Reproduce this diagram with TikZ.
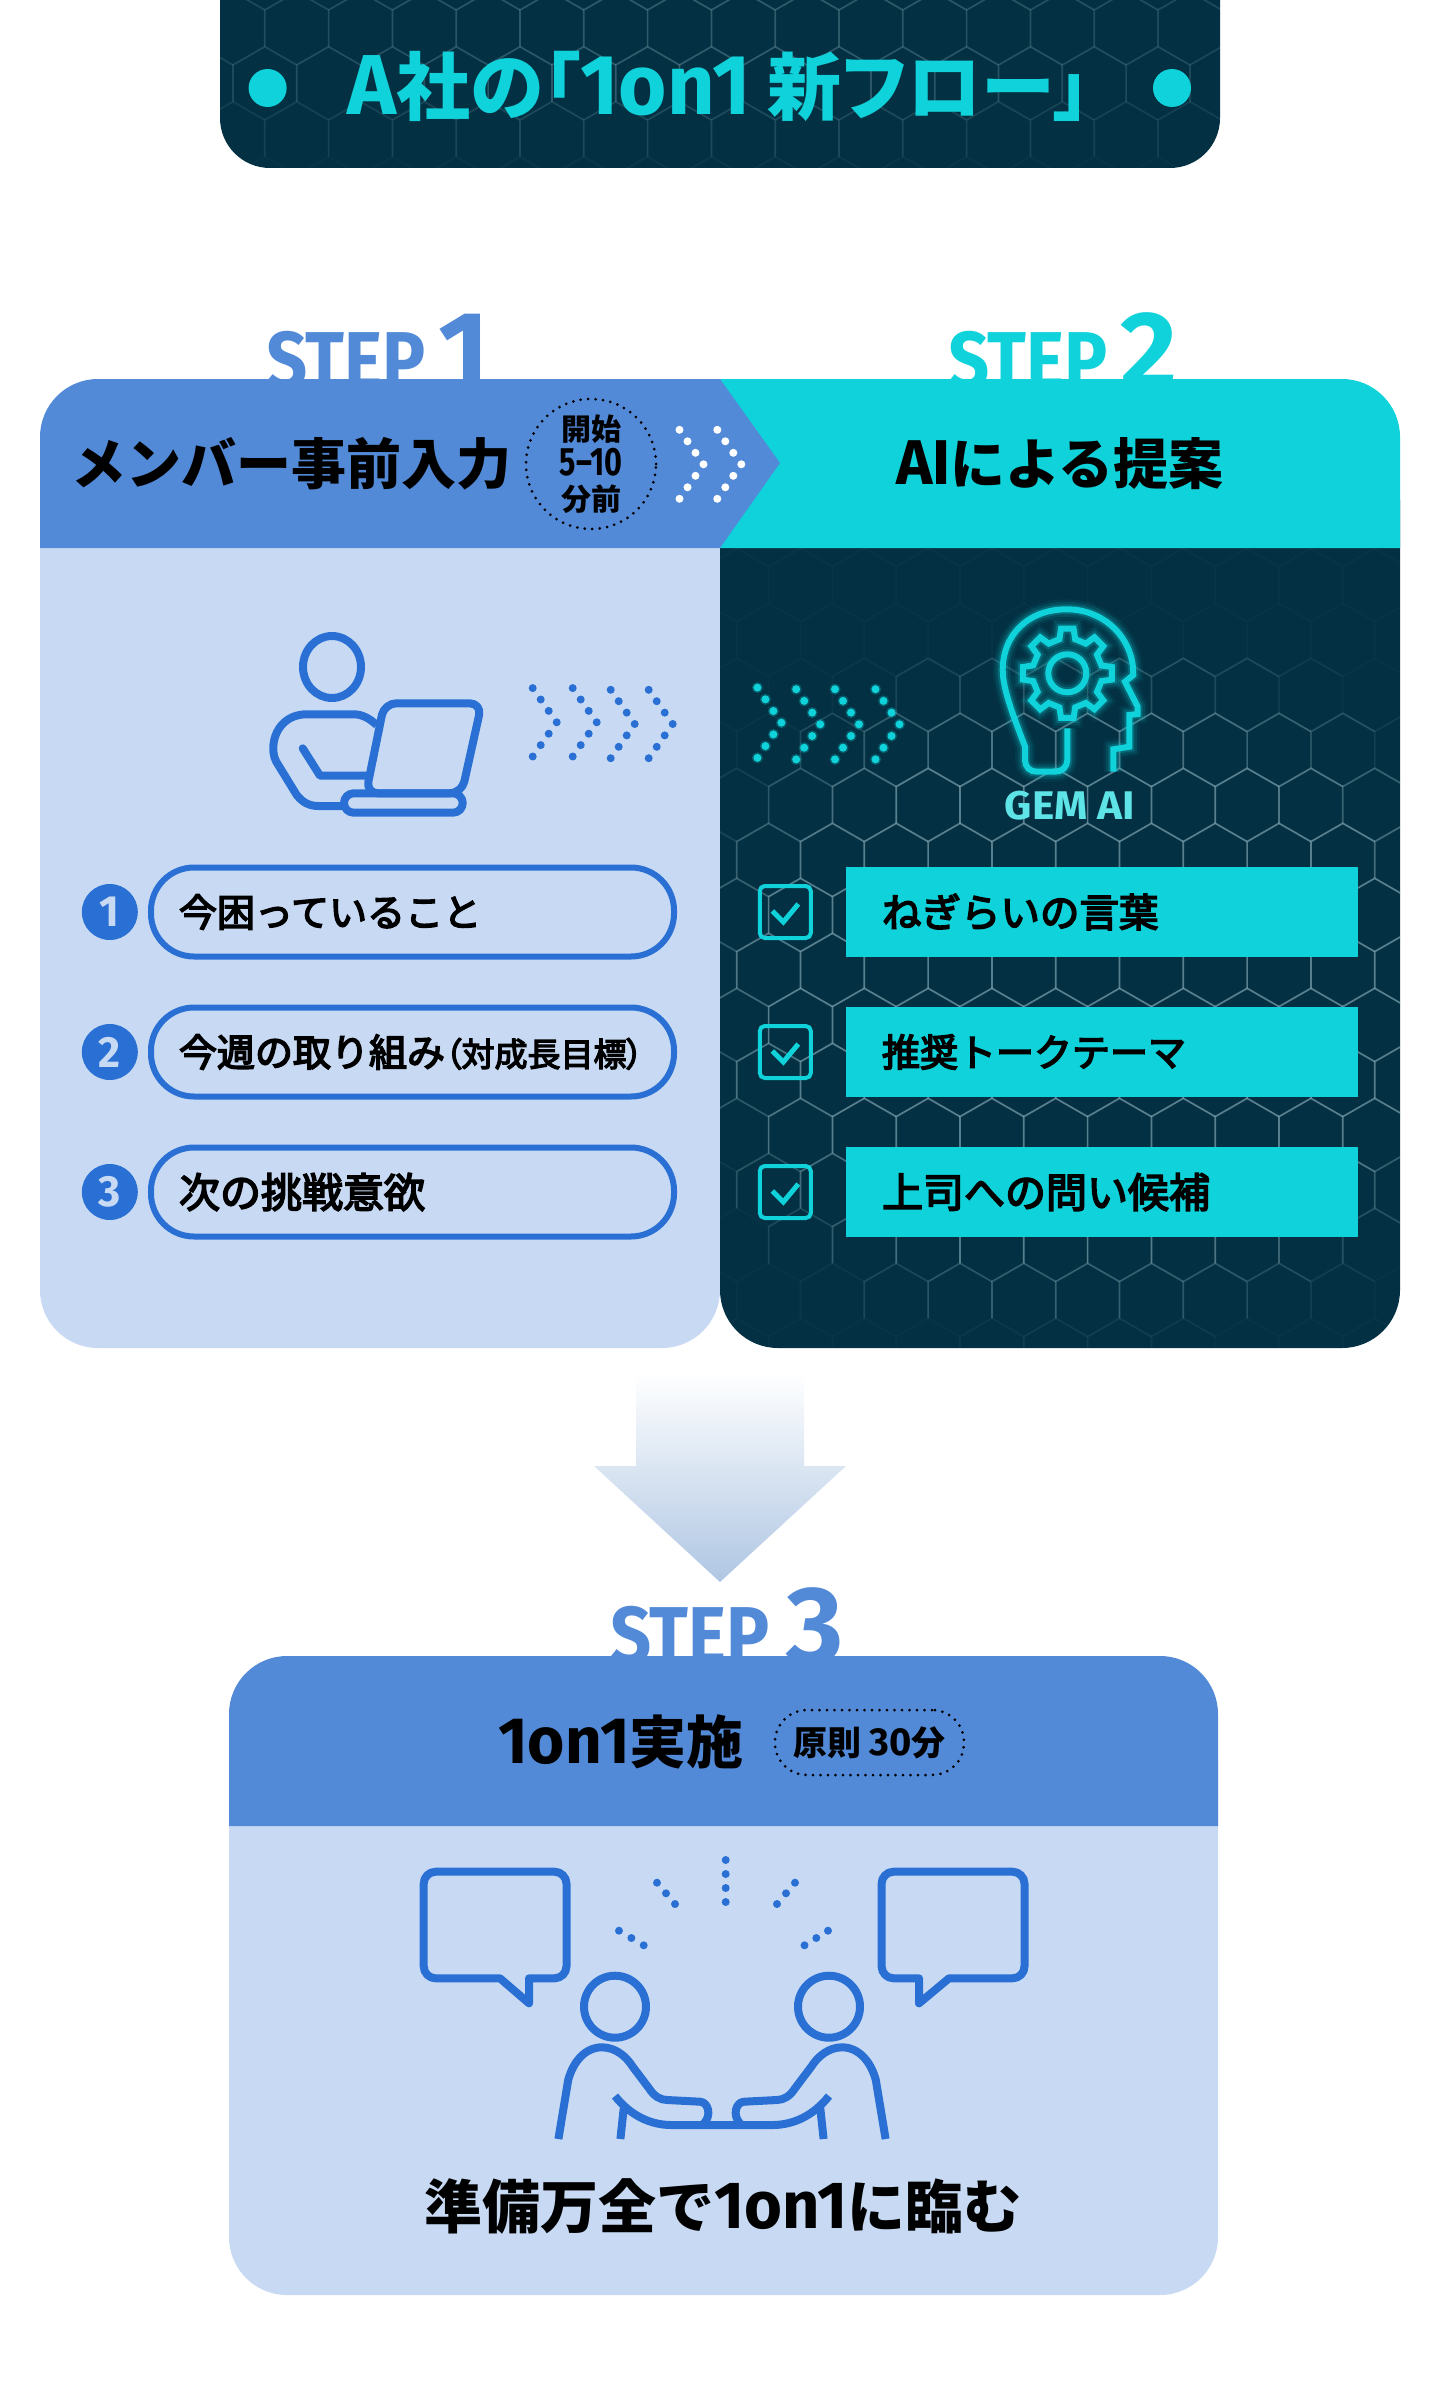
\documentclass[tikz,border=0pt]{standalone}
\usepackage{fontspec}
\setmainfont{Noto Sans CJK JP}
\newfontfamily\titlefont{Noto Sans CJK JP}[RawFeature={+palt}]
\newfontfamily\itemfont{Noto Sans CJK JP}[FakeBold=4]
\newfontfamily\stepfont{Fira Sans}
\usepackage{xcolor}
\usepackage{tikz}
\usetikzlibrary{positioning, calc}
\definecolor{flowblue}{HTML}{528AD8}
\definecolor{flowpale}{HTML}{C8DAF3}
\definecolor{flowline}{HTML}{2A70D4}
\definecolor{flowteal}{HTML}{10D2DA}
\definecolor{flowdark}{HTML}{033143}
\definecolor{flowhex}{HTML}{9FC0CC}
\definecolor{flowglow}{HTML}{5EE3E6}
\definecolor{flowarrowmid}{HTML}{C5D5EA}
\definecolor{flowarrowend}{HTML}{AFC6E3}
\newcommand{\fs}[1]{\fontsize{#1}{#1}\selectfont}
\newcommand{\lat}[1]{{\stepfont\bfseries\scalebox{1.12}[1.15]{#1}}}
\newcommand{\hexgrid}[5]{%
  \foreach \r in {0,...,#3}{
    \foreach \c in {0,...,#4}{
      \pgfmathsetmacro{\hx}{#1+63.8*\c+31.9*mod(\r,2)}
      \pgfmathsetmacro{\hy}{#2+55*\r}
      \pgfmathsetmacro{\hop}{max(0.03,min(0.55,#5))}
      \draw[hexline, opacity=\hop] (\hx-31.9,\hy+55) -- (\hx-31.9,\hy+18.3) -- (\hx,\hy) -- (\hx+31.9,\hy+18.3);
    }
  }
}
\newcommand{\dotchevron}[4]{%
  \foreach \dx/\dy in {0/-3, 8/-2, 16/-1, 24/0, 16/1, 8/2, 0/3}{
    \fill[#4] (#1+\dx,#2+\dy*#3) circle[radius=4];
  }
}
\begin{document}
\begin{tikzpicture}[
  x=1pt, y=-1pt,
  node distance=10pt,
  hexline/.style={draw=flowhex, line width=1.7pt},
  icon/.style={draw=flowline, line width=8pt, line join=round},
  glowicon/.style={draw=flowteal, line width=6pt, line join=miter, preaction={draw=flowteal, opacity=.06, line width=20pt}, preaction={draw=flowteal, opacity=.12, line width=15pt}, preaction={draw=flowteal, opacity=.22, line width=10pt}},
  tealdot/.style={fill=flowteal, draw=flowteal, draw opacity=.25, line width=3pt},
  steplabel/.style={text=flowblue, inner sep=0pt, anchor=base west, font=\stepfont\bfseries\fs{72}},
  stepnum/.style={text=flowblue, inner sep=0pt, anchor=base west, font=\stepfont\bfseries\fs{110}},
  headtext/.style={text=black, inner sep=0pt, font=\fs{55}\bfseries},
  numdot/.style={circle, fill=flowline, text=flowpale, minimum size=56pt, inner sep=0pt, font=\fs{38}},
  pill/.style={draw=flowline, line width=6pt, rounded corners=43pt, minimum height=89pt, text width=467pt, inner xsep=28pt, inner ysep=0pt, align=left, font=\itemfont\fs{38}},
  bar/.style={fill=flowteal, minimum height=90pt, text width=440pt, inner xsep=36pt, inner ysep=0pt, align=left, font=\itemfont\fs{39.5}},
  checkbox/.style={draw=flowteal, line width=4pt, rounded corners=5pt, minimum width=51pt, minimum height=52pt, inner sep=0pt},
  checkmark/.style={draw=flowteal, line width=5pt},
  dotring/.style={draw=black, line width=3pt, line cap=round, dash pattern=on 0pt off 7.5pt},
  talkdot/.style={fill=flowline},
]
\useasboundingbox (0,0) rectangle (1440,2400);

\fill[flowdark, rounded corners=50pt] (220,-100) rectangle (1220,168);
\begin{scope}
  \clip[rounded corners=50pt] (220,-100) rectangle (1220,168);
  \hexgrid{201}{-63.3}{5}{16}{.36-veclen((\hx-720)/6,\hy-20)/450}
\end{scope}
\fill[flowteal] (267.6,88) circle[radius=19];
\fill[flowteal] (1172,88) circle[radius=19];
\node[text=flowteal, inner sep=0pt, font=\titlefont\bfseries\fs{74}] (title) at (719,86) {\lat{A}社の「\lat{1on1} 新フロー」};

\node[steplabel] (stepone) at (266,388) {\scalebox{1}[1.12]{STEP}};
\node[stepnum] (numone) at (438,388) {1};
\node[steplabel, text=flowteal] (steptwo) at (948,388) {\scalebox{1}[1.12]{STEP}};
\node[stepnum, text=flowteal] (numtwo) at (1120,388) {2};
\node[steplabel] (stepthree) at (610,1663) {\scalebox{1}[1.12]{STEP}};
\node[stepnum] (numthree) at (786,1663) {3};

\fill[flowpale] (40,500) [rounded corners=58pt] -- (40,1348) -- (720,1348) [sharp corners] -- (720,500) -- cycle;
\fill[flowdark] (1400,500) [rounded corners=58pt] -- (1400,1348) -- (720,1348) [sharp corners] -- (720,500) -- cycle;
\begin{scope}
  \clip (1400,500) [rounded corners=58pt] -- (1400,1348) -- (720,1348) [sharp corners] -- (720,500) -- cycle;
  \hexgrid{672.9}{438.3}{17}{12}{1.6-veclen((\hx-1100)/1.3,\hy-970)/232}
\end{scope}
\fill[flowteal, rounded corners=58pt] (720,379) -- (1400,379) [sharp corners] -- (1400,548) -- (720,548) -- cycle;
\fill[flowblue] (40,548) [rounded corners=58pt] -- (40,379) [sharp corners] -- (720,379) -- (780,463) -- (720,548) -- cycle;

\node[headtext] (membertitle) at (291,464) {メンバー事前入力};
\node[dotring, circle, minimum size=130pt, inner sep=0pt, align=center, font=\fs{30}\bfseries] (lead) at (591,464) {開始\\[4pt]{\stepfont\bfseries\fs{36}\scalebox{.85}[1.1]{5–10}}\\[5pt]分前};
\dotchevron{679.5}{464.3}{11.5}{white}
\dotchevron{717.3}{464.3}{11.5}{white}
\node[headtext] (aititle) at (1060,464) {\lat{AI}による提案};

\draw[icon] (332,667) ellipse[x radius=29, y radius=31];
\draw[icon] (376.7,725) .. controls (369,718) and (362,714.3) .. (353.3,714.3) -- (306.7,714.3) .. controls (285,714.3) and (273.3,731) .. (273.3,748.3) .. controls (273.3,756) and (275,760) .. (278.3,765) -- (296.7,795) .. controls (303,803) and (310,806) .. (318.3,806) -- (343.3,806);
\draw[icon, line cap=round] (302.7,748.3) -- (320,775.7) -- (368.3,775.7);
\draw[icon, rounded corners=12pt] (384.3,703.3) -- (481.7,703.3) -- (461.7,793.3) -- (366,793.3) -- cycle;
\draw[icon, rounded corners=9.7pt] (344,793.3) rectangle (462.7,812.7);
\foreach \px/\py in {532.7/722.3, 572.7/722.3, 610.7/724, 648.7/724}{
  \dotchevron{\px}{\py}{11.4}{flowline}
}

\node[pill] (pillone) at (412.5,912) {今困っていること};
\node[pill] (pilltwo) at (412.5,1052) {今週の取り組み{\addfontfeature{RawFeature=+palt}\fs{33}（対成長目標）}};
\node[pill] (pillthree) at (412.5,1192) {\fs{41}次の挑戦意欲};
\node[numdot, left=of pillone] (numdotone) {\lat{1}};
\node[numdot, left=of pilltwo] (numdottwo) {\lat{2}};
\node[numdot, left=of pillthree] (numdotthree) {\lat{3}};

\foreach \px/\py in {757.4/722.7, 796.2/724.3, 835/724.3, 875.5/724.3}{
  \dotchevron{\px}{\py}{11.7}{tealdot}
}
\draw[glowicon] (1113.3,771.7) -- (1113.3,749.3) -- (1129.3,746.7) -- (1129.3,715) -- (1137.7,714) -- (1137.7,706.7) -- (1125,681.7) -- (1133.3,675) -- (1132.7,665) .. controls (1128,632) and (1100,609.3) .. (1066.7,609.3) .. controls (1028,609.3) and (1002.7,635) .. (1002.7,670) .. controls (1002.7,690) and (1015,720) .. (1025,746.7) -- (1025,760) .. controls (1025,767) and (1030,771.7) .. (1036.7,771.7) -- (1055,771.7) .. controls (1062,771.7) and (1067.3,767) .. (1067.3,760) -- (1067.3,728.3);
\begin{scope}[shift={(1067.3,673.3)}]
  \draw[glowicon] (77:35) \foreach \a in {90,135,...,405}{ -- (\a-13:35) -- (\a-8:45) -- (\a+8:45) -- (\a+13:35) } -- cycle;
  \draw[glowicon] (0,0) circle[radius=19];
\end{scope}
\node[text=flowglow, inner sep=0pt, font=\stepfont\bfseries\fs{40}] (gemai) at (1070,806) {\scalebox{1.06}[1]{GEM AI}};

\node[bar] (barone) at (1102,912) {ねぎらいの言葉};
\node[bar] (bartwo) at (1102,1052) {\fs{38}推奨トークテーマ};
\node[bar] (barthree) at (1102,1192) {\fs{41}上司への問い候補};
\node[checkbox, left=33pt of barone] (checkone) {};
\node[checkbox, left=33pt of bartwo] (checktwo) {};
\node[checkbox, left=33pt of barthree] (checkthree) {};
\foreach \n in {one,two,three}{
  \draw[checkmark] ([shift={(-13,-1)}]check\n.center) -- ++(11,11) -- ++(15,-18);
}

\shade[top color=white, middle color=flowarrowmid, bottom color=flowarrowend] (636,1373) -- (804,1373) -- (804,1466) -- (846,1466) -- (720,1582) -- (594,1466) -- (636,1466) -- cycle;

\fill[flowpale, rounded corners=58pt] (229,1700) rectangle (1218,2295);
\fill[flowblue] (229,1826) [rounded corners=58pt] -- (229,1656) -- (1218,1656) [sharp corners] -- (1218,1826) -- cycle;
\node[headtext, font=\fs{57}\bfseries] (meettitle) at (621,1742) {\lat{1on1}実施};
\node[dotring, rounded corners=32pt, minimum width=189pt, minimum height=65pt, inner sep=0pt, font=\fs{34}\bfseries] (rule) at (869.5,1742.5) {原則 \lat{30}分};

\draw[icon] (500,1978.3) -- (529,2003.3) -- (529,1978.3) [rounded corners=12pt] -- (566.5,1978.3) -- (566.5,1871.7) -- (423.7,1871.7) -- (423.7,1978.3) [sharp corners] -- cycle;
\draw[icon] (949,1978.3) -- (919,2003.3) -- (919,1978.3) [rounded corners=12pt] -- (881.6,1978.3) -- (881.6,1871.7) -- (1024.5,1871.7) -- (1024.5,1978.3) [sharp corners] -- cycle;
\foreach \tx/\ty in {725.7/1860, 725.7/1874, 725.7/1888, 725.7/1902, 657/1882.7, 666/1893.3, 675/1904, 619/1930.7, 631.4/1938, 643.7/1945.3, 795/1882.7, 786/1893.3, 777/1904, 828/1930.7, 816.3/1938, 804.5/1945.3}{
  \fill[talkdot] (\tx,\ty) circle[radius=4];
}
\foreach \mx/\sx in {0/1, 1444/-1}{
  \begin{scope}[xshift=\mx, xscale=\sx]
    \draw[icon] (615,2006.7) ellipse[x radius=31, y radius=31];
    \draw[icon] (558.4,2139) -- (568.2,2080) .. controls (573,2062) and (585,2047.3) .. (602,2047.3) .. controls (615,2047.3) and (626,2056) .. (632.7,2066.7) -- (649,2088.3) .. controls (654,2096) and (660,2100) .. (667.3,2100) -- (700,2101.7) .. controls (708,2102) and (712,2115) .. (704,2123.3);
    \draw[icon] (615,2096) .. controls (630,2115) and (650,2125) .. (671.4,2125) -- (722,2125);
    \draw[icon] (623.7,2108.3) -- (620.4,2139);
  \end{scope}
}
\node[headtext, font=\fs{58}\bfseries] (closing) at (723,2206) {準備万全で\lat{1on1}に臨む};
\end{tikzpicture}
\end{document}
